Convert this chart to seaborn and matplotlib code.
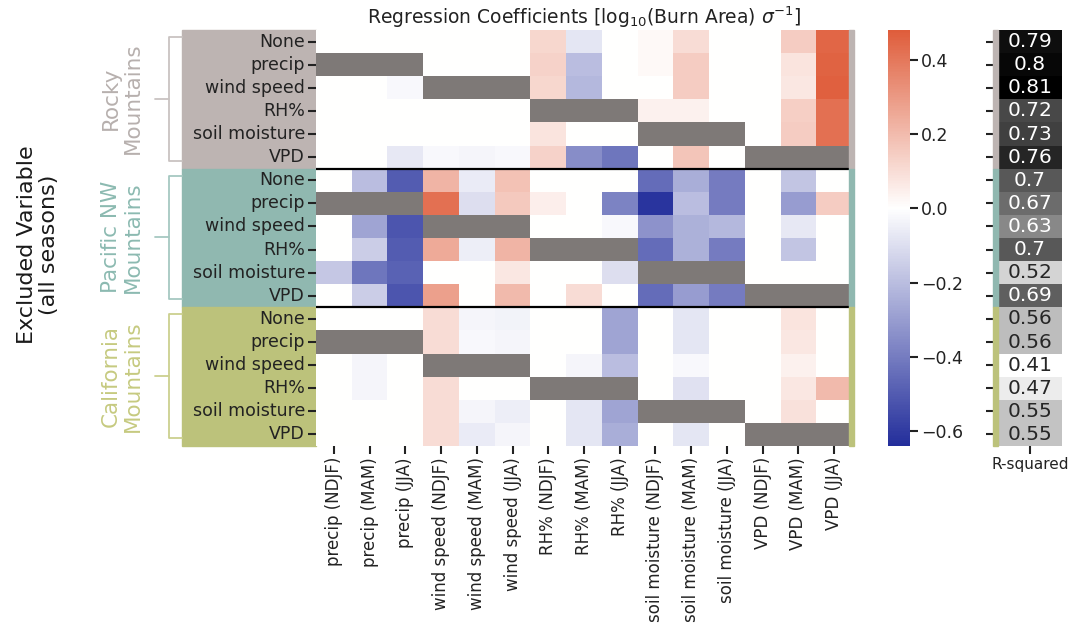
import numpy as np
import pandas as pd
import matplotlib
matplotlib.use("Agg")
import matplotlib.pyplot as plt
import matplotlib.transforms as mtransforms
from matplotlib.colors import LinearSegmentedColormap
from matplotlib.patches import Rectangle
import seaborn as sns

nan = np.nan

# Predictor columns (variable x season)
columns = [
    "precip (NDJF)", "precip (MAM)", "precip (JJA)",
    "wind speed (NDJF)", "wind speed (MAM)", "wind speed (JJA)",
    "RH% (NDJF)", "RH% (MAM)", "RH% (JJA)",
    "soil moisture (NDJF)", "soil moisture (MAM)", "soil moisture (JJA)",
    "VPD (NDJF)", "VPD (MAM)", "VPD (JJA)",
]
excluded = ["None", "precip", "wind speed", "RH%", "soil moisture", "VPD"]
regions = ["Rocky\nMountains", "Pacific NW\nMountains", "California\nMountains"]

# Regression coefficients; NaN where the variable was left out of the model
rocky = [
    [0, 0, 0, 0, 0, 0, 0.12, -0.08, 0, 0.02, 0.10, 0, 0, 0.15, 0.45],
    [nan, nan, nan, 0, 0, 0, 0.13, -0.20, 0, 0.02, 0.15, 0, 0, 0.08, 0.46],
    [0, 0, -0.02, nan, nan, nan, 0.12, -0.22, 0, 0, 0.15, 0, 0, 0.07, 0.47],
    [0, 0, 0, 0, 0, 0, nan, nan, nan, 0.04, 0.04, 0, 0, 0.14, 0.42],
    [0, 0, 0, 0, 0, 0, 0.08, 0, 0, nan, nan, nan, 0, 0.15, 0.42],
    [0, 0, -0.07, -0.02, -0.03, -0.02, 0.13, -0.35, -0.42, 0, 0.17, 0, nan, nan, nan],
]
pacific = [
    [0, -0.20, -0.50, 0.22, -0.06, 0.18, 0, 0, 0, -0.45, -0.25, -0.40, 0, -0.18, 0],
    [nan, nan, nan, 0.42, -0.10, 0.16, 0.05, 0, -0.38, -0.62, -0.20, -0.40, 0, -0.30, 0.15],
    [0, -0.28, -0.52, nan, nan, nan, 0, 0, -0.02, -0.33, -0.24, -0.22, 0, -0.07, 0],
    [0, -0.15, -0.50, 0.25, -0.05, 0.22, nan, nan, nan, -0.45, -0.24, -0.40, 0, -0.18, 0],
    [-0.17, -0.42, -0.48, 0, 0, 0.07, 0, 0, -0.10, nan, nan, nan, 0, 0, 0],
    [0, -0.15, -0.52, 0.28, 0, 0.20, 0, 0.10, 0, -0.45, -0.30, -0.40, nan, nan, nan],
]
california = [
    [0, 0, 0, 0.10, -0.03, -0.04, 0, 0, -0.28, 0, -0.08, 0, 0, 0.08, 0],
    [nan, nan, nan, 0.10, -0.02, -0.03, 0, 0, -0.28, 0, -0.08, 0, 0, 0.07, 0],
    [0, -0.03, 0, nan, nan, nan, 0, -0.03, -0.20, 0, -0.02, 0, 0, 0.04, 0],
    [0, -0.03, 0, 0.10, 0, 0, nan, nan, nan, 0, -0.09, 0, 0, 0.07, 0.20],
    [0, 0, 0, 0.10, -0.03, -0.05, 0, -0.08, -0.28, nan, nan, nan, 0, 0.09, 0],
    [0, 0, 0, 0.10, -0.06, -0.03, 0, -0.08, -0.25, 0, -0.08, 0, nan, nan, nan],
]
r_squared = [0.79, 0.8, 0.81, 0.72, 0.73, 0.76,
             0.7, 0.67, 0.63, 0.7, 0.52, 0.69,
             0.56, 0.56, 0.41, 0.47, 0.55, 0.55]

# Styling
panel_colors = ["#bdb4b2", "#90b8b0", "#bcc27b"]
label_colors = ["#b7b0ae", "#8cbab1", "#c6ca80"]
bracket_colors = ["#c9c3c1", "#a6c8c1", "#ccd08f"]
missing_color = "#7e7977"
vmin, vmax = -0.64, 0.48

sns.set_style("ticks")
plt.rcParams["font.family"] = ["DejaVu Sans"]
plt.rcParams["text.color"] = "#222222"
plt.rcParams["xtick.color"] = "#222222"
plt.rcParams["ytick.color"] = "#222222"

coef = np.vstack([np.array(rocky), np.array(pacific), np.array(california)])
row_labels = excluded * 3
df = pd.DataFrame(coef, columns=columns)
r2 = pd.DataFrame({"R-squared": r_squared})

zero_frac = (0 - vmin) / (vmax - vmin)
cmap = LinearSegmentedColormap.from_list(
    "bwr_custom", [(0.0, "#232e9b"), (zero_frac, "#ffffff"), (1.0, "#df5d3b")])

W, H = 1089, 627
fig = plt.figure(figsize=(W / 100, H / 100), dpi=100)
top, bot = 30, 446
ax = fig.add_axes([316 / W, 1 - bot / H, 536 / W, (bot - top) / H])
cax = fig.add_axes([888 / W, 1 - bot / H, 22 / W, (bot - top) / H])
rax = fig.add_axes([998 / W, 1 - bot / H, 64 / W, (bot - top) / H])

ax.set_facecolor(missing_color)
sns.heatmap(df, ax=ax, cmap=cmap, vmin=vmin, vmax=vmax, cbar_ax=cax,
            xticklabels=columns, yticklabels=row_labels)
ax.set_facecolor(missing_color)
ax.tick_params(axis="y", labelsize=12.5, length=6, width=1.5, pad=2)
ax.tick_params(axis="x", labelsize=12, length=6, width=1.5, pad=2)
ax.set_xticklabels(columns, rotation=90)
ax.set_yticklabels(row_labels, rotation=0)
ax.set_xlabel("")
ax.set_ylabel("")
for y in (6, 12):
    ax.axhline(y, color="black", lw=1.6)
ax.set_title(r"Regression Coefficients [log$_{10}$(Burn Area) $\sigma^{-1}$]",
             fontsize=13.5, pad=4)

cax.tick_params(labelsize=12.5, length=6, width=1.5, pad=2)
cax.set_yticks([-0.6, -0.4, -0.2, 0.0, 0.2, 0.4])

sns.heatmap(r2, ax=rax, cmap="Greys", vmin=0.41, vmax=0.81, cbar=False,
            annot=True, fmt="g", annot_kws={"size": 14.5},
            xticklabels=["R-squared"], yticklabels=[""] * len(r_squared))
rax.tick_params(axis="y", length=9, width=1.5)
rax.tick_params(axis="x", labelsize=11, length=6, width=1.5, pad=2)
rax.set_xticklabels(["R-squared"], rotation=0)
rax.set_ylabel("")

# Region panels, brackets and labels
blend = mtransforms.blended_transform_factory(fig.transFigure, ax.transData)
for i, region in enumerate(regions):
    r0 = 6 * i
    fig.patches.append(Rectangle((182 / W, r0), (316 - 182) / W, 6,
                                 transform=blend, color=panel_colors[i],
                                 zorder=-1))
    ax.add_patch(Rectangle((14.93, r0), 0.12, 6, color=panel_colors[i],
                           clip_on=False, zorder=3))
    rax.add_patch(Rectangle((-0.08, r0), 0.08, 6, color=panel_colors[i],
                            clip_on=False, zorder=3))
    yt, yb, ym = r0 + 0.3, r0 + 5.65, r0 + 2.97
    xv, xr, xl = 169 / W, 182 / W, 155 / W
    fig.add_artist(plt.Line2D([xr, xv, xv, xr], [yt, yt, yb, yb],
                              transform=blend, color=bracket_colors[i], lw=1.3))
    fig.add_artist(plt.Line2D([xv, xl], [ym, ym], transform=blend,
                              color=bracket_colors[i], lw=1.3))
    fig.text(122 / W, ym, region, transform=blend, rotation=90,
             ha="center", va="center", fontsize=15.5, color=label_colors[i],
             linespacing=1.1)

fig.text(38 / W, 1 - 245 / H, "Excluded Variable\n(all seasons)", rotation=90,
         ha="center", va="center", fontsize=16, color="#1a1a1a",
         linespacing=1.1)

fig.savefig("out.png", dpi=100)
